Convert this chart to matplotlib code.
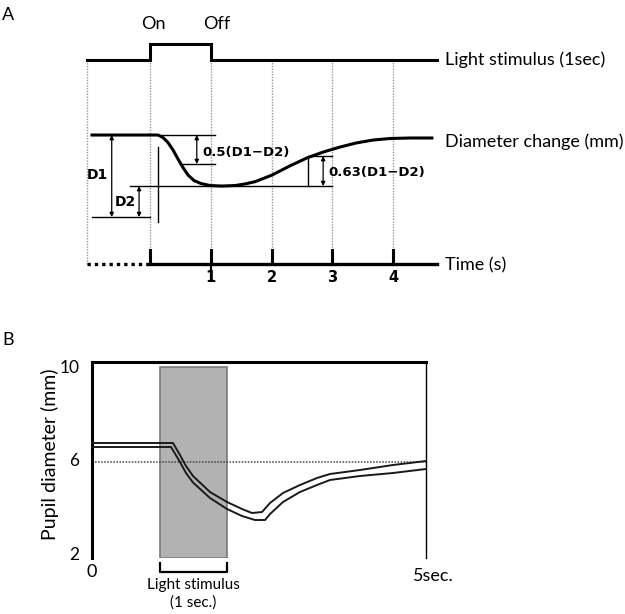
import matplotlib
matplotlib.use("Agg")
import matplotlib.pyplot as plt
from matplotlib.patches import Rectangle

plt.rcParams['font.family'] = ['Lato', 'DejaVu Sans']

# ---- Panel A: schematic of the pupil light reflex ----
stim_t = [-1.04, 0, 0, 1, 1, 4.72]
stim_level = [15.3, 15.3, 16.9, 16.9, 15.3, 15.3]
curve_t = [-0.955, 0.132, 0.214, 0.296, 0.379, 0.461, 0.543, 0.626, 0.724,
           0.840, 0.988, 1.185, 1.399, 1.56, 1.73, 2.01, 2.30, 2.58, 2.85,
           3.13, 3.39, 3.67, 3.95, 4.28, 4.64]
curve_d = [8.0, 8.0, 7.756, 7.268, 6.537, 5.659, 4.829, 4.098, 3.561,
           3.268, 3.073, 3.024, 3.073, 3.22, 3.45, 4.10, 4.98, 5.76, 6.34,
           6.83, 7.22, 7.51, 7.66, 7.71, 7.71]
d1 = 8.0
d2 = 3.02
half_level = 5.17
rec_level = 5.95
time_ticks = [0, 1, 2, 3, 4]
grid_t = [-1.04, 0, 1, 2, 3, 4]

# ---- Panel B: recorded pupil diameter (two traces) ----
upper_t = [0.000, 1.213, 1.317, 1.407, 1.512, 1.766, 2.021, 2.246, 2.395,
           2.545, 2.665, 2.859, 3.114, 3.368, 3.563, 4.012, 4.506, 5.000]
upper_v = [6.731, 6.731, 6.215, 5.742, 5.312, 4.624, 4.194, 3.892, 3.720,
           3.763, 4.151, 4.581, 4.925, 5.226, 5.398, 5.570, 5.785, 5.957]
lower_t = [0.000, 1.183, 1.317, 1.407, 1.512, 1.766, 2.021, 2.246, 2.440,
           2.590, 2.665, 2.859, 3.114, 3.368, 3.563, 4.012, 4.506, 5.000]
lower_v = [6.559, 6.559, 5.914, 5.441, 5.032, 4.366, 3.892, 3.591, 3.419,
           3.419, 3.677, 4.194, 4.624, 4.925, 5.140, 5.312, 5.441, 5.613]
ref_level = 5.91
light_on, light_off = 1.02, 2.02
y_ticks = [2, 6, 10]

fig = plt.figure(figsize=(6.25, 6.14), dpi=100)

# ================= A =================
ax = fig.add_axes([87/625, 1 - 285/614, 350/625, 245/614])
ax.set_xlim(-1.037, 4.724)
ax.set_ylim(-6.63, 17.27)
ax.axis('off')

dkw = dict(clip_on=False)
# dotted guide lines
for t in grid_t:
    ax.plot([t, t], [-3.2 if t >= 0 else -4.6, 15.3], color='#9a9a9a', lw=1,
            ls=(0, (1, 1)), zorder=1, **dkw)

ax.plot(stim_t, stim_level, color='black', lw=2.2, solid_joinstyle='miter', **dkw)
ax.plot(curve_t, curve_d, color='black', lw=2.2, solid_joinstyle='round', **dkw)

# time axis
ax.plot([stim_t[0], 0], [-4.6, -4.6], color='black', lw=2.4, ls=(0, (1, 1.2)), **dkw)
ax.plot([0, stim_t[-1]], [-4.6, -4.6], color='black', lw=2.4, **dkw)
for t in time_ticks:
    ax.plot([t, t], [-4.6, -3.2], color='black', lw=2.2, **dkw)
    if t > 0:
        ax.text(t, -5.9, str(t), ha='center', va='center', fontsize=10.5,
                family='DejaVu Sans', fontweight='bold')
ax.plot([1, 1], [-4.6, -6.1], color='black', lw=1.6, **dkw)

lkw = dict(color='black', lw=1.0, **dkw)
# D1 / D2 construction lines
ax.plot([-0.955, 0], [0, 0], **lkw)
ax.plot([-0.33, 3.0], [d2, d2], **lkw)
ax.plot([0.13, 1.07], [d1, d1], **lkw)
ax.plot([0.49, 1.07], [half_level, half_level], **lkw)
ax.plot([0.13, 0.13], [6.83, -0.49], **lkw)
ax.plot([2.6, 2.6], [5.85, d2], **lkw)
ax.plot([2.6, 3.0], [rec_level, rec_level], **lkw)

akw = dict(arrowstyle='<|-|>', lw=0.9, color='black', mutation_scale=6,
           shrinkA=0, shrinkB=0)
for x, y0, y1 in [(-0.63, d1, 0), (-0.18, d2, 0), (0.77, d1, half_level),
                  (2.85, rec_level, d2)]:
    ax.annotate('', xy=(x, y1), xytext=(x, y0), arrowprops=akw,
                annotation_clip=False)

fkw = dict(family='DejaVu Sans', fontweight='bold', va='center', ha='left')
ax.text(-1.04, 4.1, 'D1', fontsize=10, **fkw)
ax.text(-0.58, 1.46, 'D2', fontsize=10, **fkw)
ax.text(0.87, 6.34, '0.5(D1\u2212D2)', fontsize=9.5, **fkw)
ax.text(2.93, 4.39, '0.63(D1\u2212D2)', fontsize=9.5, **fkw)

ax.text(0.05, 18.8, 'On', ha='center', va='center', fontsize=13)
ax.text(1.1, 18.8, 'Off', ha='center', va='center', fontsize=13)
ax.text(4.86, 15.3, 'Light stimulus (1sec)', ha='left', va='center', fontsize=13)
ax.text(4.86, 7.3, 'Diameter change (mm)', ha='left', va='center', fontsize=13)
ax.text(4.86, -4.7, 'Time (s)', ha='left', va='center', fontsize=13)

fig.text(8/625, 1 - 15/614, 'A', ha='center', va='center', fontsize=13)

# ================= B =================
bx = fig.add_axes([92/625, 1 - 558/614, 334/625, 196/614])
bx.set_xlim(0, 5)
bx.set_ylim(1.785, 10.215)
bx.spines['bottom'].set_visible(False)
bx.spines['left'].set_linewidth(2.2)
bx.spines['top'].set_linewidth(2.2)
bx.spines['right'].set_linewidth(1.0)

bx.add_patch(Rectangle((light_on, 1.785), light_off - light_on, 10 - 1.785,
                       facecolor='#b2b2b2', edgecolor='#7a7a7a', lw=1.2, zorder=1))
bx.axhline(ref_level, color='#444444', lw=1.1, ls=(0, (1, 1)), zorder=2)
bx.plot(upper_t, upper_v, color='#1a1a1a', lw=1.4, zorder=3, clip_on=False)
bx.plot(lower_t, lower_v, color='#1a1a1a', lw=1.4, zorder=3, clip_on=False)

bx.set_yticks(y_ticks)
bx.set_yticklabels([str(v) for v in y_ticks], fontsize=12.5)
bx.tick_params(axis='y', length=0, pad=9)
bx.set_xticks([0])
bx.set_xticklabels(['0'], fontsize=13)
bx.tick_params(axis='x', length=0, pad=4)
bx.annotate('5sec.', xy=(5, 1.785), xytext=(5, -13), textcoords='offset points',
            ha='center', va='center', fontsize=13, annotation_clip=False)

# bracket under the stimulus
bx.plot([light_on, light_on, light_off, light_off], [1.57, 1.18, 1.18, 1.57],
        color='black', lw=1.6, clip_on=False)
bx.text((light_on + light_off) / 2, 0.62, 'Light stimulus', ha='center',
        va='center', fontsize=11)
bx.text((light_on + light_off) / 2, -0.15, '(1 sec.)', ha='center',
        va='center', fontsize=11)

fig.text(50/625, 1 - 454/614, 'Pupil diameter (mm)', rotation=90,
         ha='center', va='center', fontsize=14)
fig.text(8/625, 1 - 340/614, 'B', ha='center', va='center', fontsize=13)

fig.savefig('out.png', dpi=100)
